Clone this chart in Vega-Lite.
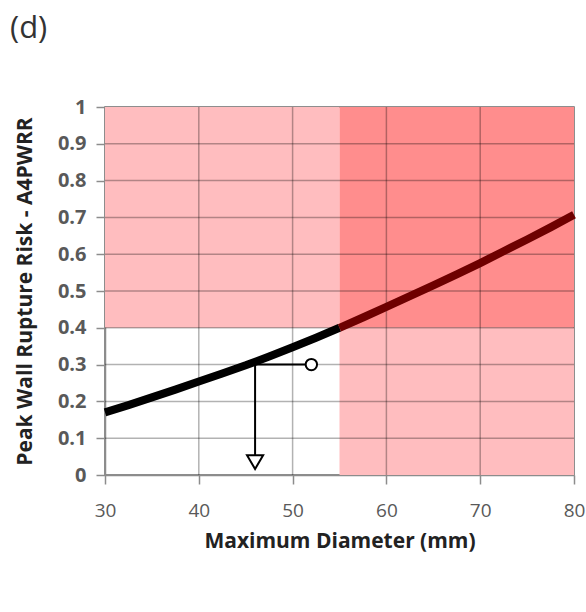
{
  "$schema": "https://vega.github.io/schema/vega-lite/v6.json",
  "autosize": "none",
  "width": 469,
  "height": 368,
  "padding": {"left": 105, "top": 107, "right": 12, "bottom": 137},
  "background": "white",
  "title": {"text": "(d)", "anchor": "start", "frame": "group", "dx": -95, "offset": 52, "fontSize": 31, "fontWeight": "normal", "font": "Open Sans", "color": "#333333"},
  "config": {
    "view": {"stroke": "#6a6a6a", "strokeWidth": 1.5},
    "axis": {"grid": false, "domainColor": "#8c8c8c", "tickColor": "#8c8c8c", "tickSize": 9, "domainWidth": 1.5, "tickWidth": 1.5, "labelFont": "Open Sans", "labelFontSize": 20, "labelColor": "#595959", "labelOverlap": false, "titleFont": "Open Sans", "titleFontSize": 21, "titleColor": "#222222", "titleFontWeight": "bold"}
  },
  "datasets": {
    "zones": [
      {"x": 30, "x2": 55, "y": 0.4, "y2": 1, "zone": "light"},
      {"x": 55, "x2": 80, "y": 0.4, "y2": 1, "zone": "dark"},
      {"x": 55, "x2": 80, "y": 0, "y2": 0.4, "zone": "light"}
    ],
    "gridx": [{"v": 40}, {"v": 50}, {"v": 60}, {"v": 70}],
    "gridy": [{"v": 0.1}, {"v": 0.2}, {"v": 0.3}, {"v": 0.4}, {"v": 0.5}, {"v": 0.6}, {"v": 0.7}, {"v": 0.8}, {"v": 0.9}],
    "curve": [
      {"d": 30, "r": 0.170, "seg": "below"},
      {"d": 32.5, "r": 0.190, "seg": "below"},
      {"d": 35, "r": 0.211, "seg": "below"},
      {"d": 37.5, "r": 0.232, "seg": "below"},
      {"d": 40, "r": 0.254, "seg": "below"},
      {"d": 42.5, "r": 0.276, "seg": "below"},
      {"d": 45, "r": 0.298, "seg": "below"},
      {"d": 47.5, "r": 0.322, "seg": "below"},
      {"d": 50, "r": 0.347, "seg": "below"},
      {"d": 52.5, "r": 0.373, "seg": "below"},
      {"d": 55, "r": 0.400, "seg": "below"},
      {"d": 55, "r": 0.400, "seg": "above"},
      {"d": 57.5, "r": 0.428, "seg": "above"},
      {"d": 60, "r": 0.457, "seg": "above"},
      {"d": 62.5, "r": 0.486, "seg": "above"},
      {"d": 65, "r": 0.515, "seg": "above"},
      {"d": 67.5, "r": 0.545, "seg": "above"},
      {"d": 70, "r": 0.576, "seg": "above"},
      {"d": 72.5, "r": 0.608, "seg": "above"},
      {"d": 75, "r": 0.640, "seg": "above"},
      {"d": 77.5, "r": 0.673, "seg": "above"},
      {"d": 80, "r": 0.707, "seg": "above"}
    ],
    "hline": [{"x": 46, "x2": 52, "y": 0.3}],
    "vline": [{"x": 46, "y": 0.3, "y2": 0.04}],
    "circle": [{"x": 52, "y": 0.3}],
    "arrow": [{"x": 46, "y": 0.035}]
  },
  "encoding": {
    "x": {"type": "quantitative", "scale": {"domain": [30, 80], "nice": false}, "axis": {"values": [30, 40, 50, 60, 70, 80], "title": "Maximum Diameter (mm)", "labelFontSize": 19, "labelPadding": 17, "titlePadding": 10, "labelOverlap": false, "labelFlush": false}},
    "y": {"type": "quantitative", "scale": {"domain": [0, 1], "nice": false}, "axis": {"values": [0, 0.1, 0.2, 0.3, 0.4, 0.5, 0.6, 0.7, 0.8, 0.9, 1], "format": ".1~f", "title": "Peak Wall Rupture Risk - A4PWRR", "labelFontWeight": "bold", "labelFontSize": 20, "labelPadding": 10, "titlePadding": 22, "labelOverlap": false, "labelBound": false, "labelFlush": false}}
  },
  "layer": [
    {
      "data": {"name": "zones"},
      "mark": {"type": "rect"},
      "encoding": {
        "x": {"field": "x"},
        "x2": {"field": "x2"},
        "y": {"field": "y"},
        "y2": {"field": "y2"},
        "color": {"field": "zone", "type": "nominal", "scale": {"domain": ["light", "dark"], "range": ["#ffbdbf", "#ff8d8d"]}, "legend": null}
      }
    },
    {
      "data": {"name": "gridx"},
      "mark": {"type": "rule", "color": "#000000", "opacity": 0.3, "strokeWidth": 1.5},
      "encoding": {"x": {"field": "v"}, "y": null}
    },
    {
      "data": {"name": "gridy"},
      "mark": {"type": "rule", "color": "#000000", "opacity": 0.3, "strokeWidth": 1.5},
      "encoding": {"y": {"field": "v"}, "x": null}
    },
    {
      "data": {"name": "curve"},
      "mark": {"type": "line", "strokeWidth": 8},
      "encoding": {
        "x": {"field": "d"},
        "y": {"field": "r"},
        "detail": {"field": "seg"},
        "stroke": {"field": "seg", "type": "nominal", "scale": {"domain": ["below", "above"], "range": ["#000000", "#6e0000"]}, "legend": null}
      }
    },
    {
      "data": {"name": "hline"},
      "mark": {"type": "rule", "color": "#000000", "strokeWidth": 2},
      "encoding": {"x": {"field": "x"}, "x2": {"field": "x2"}, "y": {"field": "y"}}
    },
    {
      "data": {"name": "vline"},
      "mark": {"type": "rule", "color": "#000000", "strokeWidth": 2},
      "encoding": {"x": {"field": "x"}, "y": {"field": "y"}, "y2": {"field": "y2"}}
    },
    {
      "data": {"name": "arrow"},
      "mark": {"type": "point", "shape": "triangle-down", "filled": true, "fill": "white", "stroke": "black", "strokeWidth": 2, "size": 260, "opacity": 1},
      "encoding": {"x": {"field": "x"}, "y": {"field": "y"}}
    },
    {
      "data": {"name": "circle"},
      "mark": {"type": "point", "shape": "circle", "filled": true, "fill": "white", "stroke": "black", "strokeWidth": 2, "size": 130, "opacity": 1},
      "encoding": {"x": {"field": "x"}, "y": {"field": "y"}}
    }
  ]
}
